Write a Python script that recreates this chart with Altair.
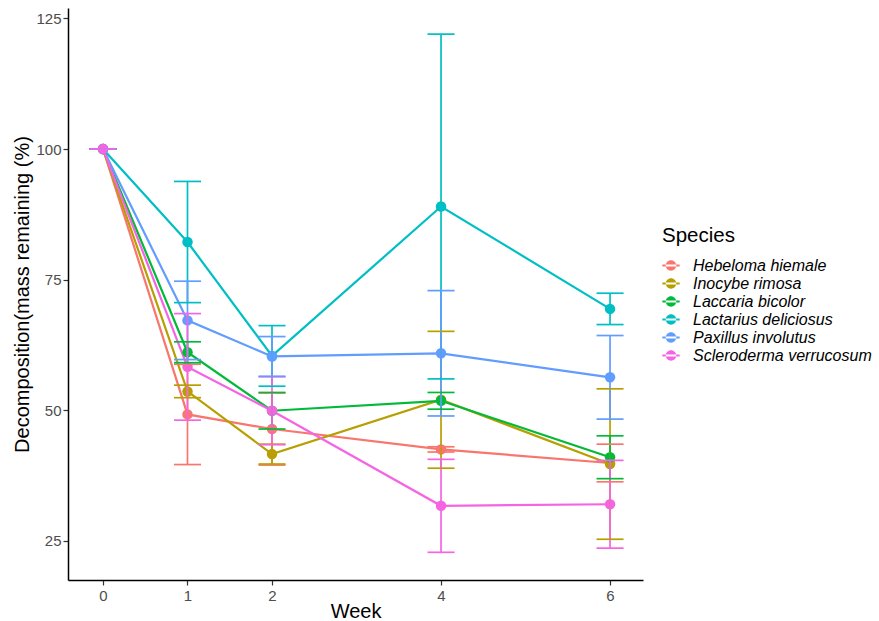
import altair as alt
import pandas as pd

weeks = [0, 1, 2, 4, 6]
species = ["Hebeloma hiemale", "Inocybe rimosa", "Laccaria bicolor",
           "Lactarius deliciosus", "Paxillus involutus", "Scleroderma verrucosum"]
colors = ["#F8766D", "#B79F00", "#00BA38", "#00BFC4", "#619CFF", "#F564E3"]

mean_hebeloma = [100, 49.2, 46.4, 42.5, 39.9]
mean_inocybe = [100, 53.6, 41.6, 52.0, 39.7]
mean_laccaria = [100, 61.1, 49.9, 51.8, 41.0]
mean_lactarius = [100, 82.2, 60.4, 89.0, 69.4]
mean_paxillus = [100, 67.2, 60.3, 60.9, 56.3]
mean_scleroderma = [100, 58.3, 49.9, 31.7, 32.0]

se_hebeloma = [0, 9.6, 6.9, 0.5, 3.6]
se_inocybe = [0, 1.2, 1.9, 13.1, 14.4]
se_laccaria = [0, 2.0, 3.5, 1.6, 4.1]
se_lactarius = [0, 11.6, 5.8, 33.0, 3.0]
se_paxillus = [0, 7.5, 3.8, 12.0, 8.0]
se_scleroderma = [0, 10.2, 6.5, 8.9, 8.4]

means = [mean_hebeloma, mean_inocybe, mean_laccaria, mean_lactarius, mean_paxillus, mean_scleroderma]
ses = [se_hebeloma, se_inocybe, se_laccaria, se_lactarius, se_paxillus, se_scleroderma]

rows = []
for sp, m, s in zip(species, means, ses):
    for w, mv, sv in zip(weeks, m, s):
        rows.append({"Week": w, "Species": sp, "mean": mv, "se": sv})
df = pd.DataFrame(rows)

FONT = "Liberation Sans"
CAP = 0.16

xscale = alt.Scale(domain=[-0.414, 6.39], nice=False, zero=False)
yscale = alt.Scale(domain=[17.5, 127], nice=False, zero=False)
cscale = alt.Scale(domain=species, range=colors)

xaxis = alt.Axis(values=weeks, format="d", title="Week", titleY=37, titleBaseline="alphabetic",
                 labelFontSize=15, titleFontSize=20, tickSize=5, labelPadding=3)
yaxis = alt.Axis(values=[25, 50, 75, 100, 125], format="d", title="Decomposition(mass remaining (%)",
                 labelFontSize=15, titleFontSize=20, tickSize=5, labelPadding=2,
                 titleX=-46, titleBaseline="middle")

legend_path = ("M-1,-0.12 L1,-0.12 L1,0.12 L-1,0.12 Z "
               "M-0.6,0 A0.6,0.6 0 1,0 0.6,0 A0.6,0.6 0 1,0 -0.6,0 Z")
legend = alt.Legend(
    title="Species", orient="none", legendX=594, legendY=218,
    titleFontSize=20.5, titleFont=FONT, titleFontWeight="normal", titleColor="black",
    titlePadding=10, labelFontSize=16, labelFont=FONT, labelFontStyle="italic",
    labelColor="black", labelLimit=0, symbolType=legend_path, symbolSize=300,
    symbolStrokeWidth=0, rowPadding=1, labelOffset=13, symbolOpacity=1)
col = alt.Color("Species:N", scale=cscale, legend=legend)

base = alt.Chart(df).transform_calculate(
    lo="datum.mean - datum.se", hi="datum.mean + datum.se",
    xl="datum.Week - %f" % CAP, xr="datum.Week + %f" % CAP)

x = alt.X("Week:Q", scale=xscale, axis=xaxis)
y = alt.Y("mean:Q", scale=yscale, axis=yaxis)

lines = base.mark_line(strokeWidth=2.2).encode(x=x, y=y, color=col)
points = base.mark_point(filled=True, size=110, opacity=1).encode(x=x, y=y, color=col)

vbars = base.mark_rule(strokeWidth=1.7).encode(
    x="Week:Q", y=alt.Y("lo:Q", scale=yscale), y2="hi:Q", color=col)
caps_hi = base.mark_rule(strokeWidth=1.7).encode(
    x=alt.X("xl:Q", scale=xscale), x2="xr:Q", y=alt.Y("hi:Q", scale=yscale), color=col)
caps_lo = base.mark_rule(strokeWidth=1.7).encode(
    x=alt.X("xl:Q", scale=xscale), x2="xr:Q", y=alt.Y("lo:Q", scale=yscale), color=col)

chart = alt.layer(lines, points, vbars, caps_hi, caps_lo).properties(
    width=575, height=572,
    autosize=alt.AutoSizeParams(type="none"),
    padding={"left": 68, "top": 8, "right": 236, "bottom": 41},
    background="white",
).configure_view(stroke=None).configure_axis(
    grid=False, domainColor="black", domainWidth=1.5, tickColor="#333333", tickWidth=1.2,
    labelColor="#4D4D4D", labelFont=FONT, titleFont=FONT, titleColor="black",
    titleFontWeight="normal")

chart.save("out.html", embed_options={"renderer": "svg", "actions": False})
